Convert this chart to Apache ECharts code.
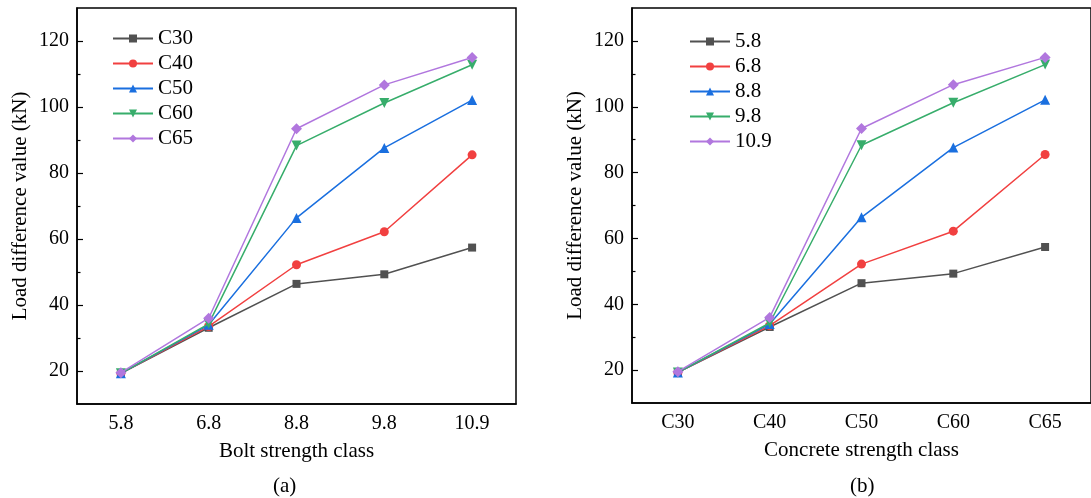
<!DOCTYPE html>
<html lang="en">
<head>
<meta charset="UTF-8">
<title>Load difference value</title>
<script src="https://cdn.jsdelivr.net/npm/echarts@6/dist/echarts.min.js"></script>
<style>
    html, body { margin: 0; padding: 0; background: #fff; }
    #main { width: 1091px; height: 498px; }
</style>
</head>
<body>
<div id="main"></div>
<script>
    // categories
    var boltClass = ['5.8', '6.8', '8.8', '9.8', '10.9'];
    var concreteClass = ['C30', 'C40', 'C50', 'C60', 'C65'];

    // load difference values (kN), one row per line of panel (a)
    var rowC30 = [19.3, 33.1, 46.4, 49.3, 57.4];
    var rowC40 = [19.3, 33.5, 52.2, 62.2, 85.5];
    var rowC50 = [19.3, 34.0, 66.4, 87.6, 102.1];
    var rowC60 = [19.3, 34.3, 88.3, 101.2, 112.8];
    var rowC65 = [19.5, 36.0, 93.4, 106.7, 115.0];

    // y ticks
    var yMajorTicks = [20, 40, 60, 80, 100, 120];
    var yMinorTicks = [30, 50, 70, 90, 110];

    var rows = [rowC30, rowC40, rowC50, rowC60, rowC65];
    var colors = ['#515151', '#F14040', '#1A6FDF', '#37AD6B', '#B177DE'];
    var symbols = ['rect', 'circle', 'triangle', 'triangle', 'diamond'];
    var symRot = [0, 0, 0, 180, 0];
    var symSize = [8, 9, 10, 10, 11];
    var font = "'Liberation Serif', 'Times New Roman', serif";

    function mainX(gi, cats, title) {
        return {
            type: 'category', gridIndex: gi, data: cats,
            name: title, nameLocation: 'middle', nameGap: 37,
            nameTextStyle: {fontFamily: font, fontSize: 21, color: '#000'},
            axisLine: {lineStyle: {color: '#000', width: 1.5}},
            axisTick: {inside: true, alignWithLabel: true, length: 7, lineStyle: {color: '#000', width: 1.2}},
            axisLabel: {fontFamily: font, fontSize: 20, color: '#000', margin: 10},
            splitLine: {show: false}
        };
    }
    function minorX(gi, cats) {
        return {
            type: 'category', gridIndex: gi, data: cats, position: 'bottom',
            axisLine: {show: false},
            axisTick: {inside: true, alignWithLabel: false, interval: 0, length: 3.5, lineStyle: {color: '#000', width: 1.2}},
            axisLabel: {show: false},
            splitLine: {show: false}
        };
    }
    function mainY(gi) {
        return {
            type: 'value', gridIndex: gi, min: 10, max: 130, position: 'left',
            name: 'Load difference value (kN)', nameLocation: 'middle', nameGap: 46,
            nameTextStyle: {fontFamily: font, fontSize: 21, color: '#000'},
            axisLine: {show: true, lineStyle: {color: '#000', width: 1.5}},
            axisTick: {show: true, inside: true, length: 6, customValues: yMajorTicks, lineStyle: {color: '#000', width: 1.2}},
            axisLabel: {fontFamily: font, fontSize: 20, color: '#000', margin: 8, customValues: yMajorTicks},
            splitLine: {show: false}
        };
    }
    function minorY(gi) {
        return {
            type: 'value', gridIndex: gi, min: 10, max: 130, position: 'left', offset: 0,
            axisLine: {show: false},
            axisTick: {show: true, inside: true, length: 3.5, customValues: yMinorTicks, lineStyle: {color: '#000', width: 1.2}},
            axisLabel: {show: false},
            splitLine: {show: false}
        };
    }

    var series = [];
    for (var p = 0; p < 2; p++) {
        var names = p == 0 ? concreteClass : boltClass;
        for (var i = 0; i < rows.length; i++) {
            series.push({
                name: names[i], type: 'line', data: rows[i],
                xAxisIndex: p * 2, yAxisIndex: p * 2,
                symbol: symbols[i], symbolRotate: symRot[i], symbolSize: symSize[i],
                showAllSymbol: true,
                itemStyle: {color: colors[i]},
                lineStyle: {color: colors[i], width: 1.5},
                z: 3 + i
            });
        }
    }

    var myChart = echarts.init(document.getElementById('main'));
    var option = {
        backgroundColor: '#fff',
        animation: false,
        grid: [
            {left: 77, top: 8, width: 439, height: 396, show: true, borderColor: '#000', borderWidth: 1.5, containLabel: false},
            {left: 632, top: 8, width: 462, height: 395, show: true, borderColor: '#000', borderWidth: 1.5, containLabel: false}
        ],
        legend: [
            {
                data: concreteClass, orient: 'vertical', left: 107, top: 23,
                itemWidth: 40, itemHeight: 10, itemGap: 4,
                textStyle: {fontFamily: font, fontSize: 21, color: '#000', lineHeight: 21}
            },
            {
                data: boltClass, orient: 'vertical', left: 684, top: 26,
                itemWidth: 40, itemHeight: 10, itemGap: 4,
                textStyle: {fontFamily: font, fontSize: 21, color: '#000', lineHeight: 21}
            }
        ],
        xAxis: [
            mainX(0, boltClass, 'Bolt strength class'), minorX(0, boltClass),
            mainX(1, concreteClass, 'Concrete strength class'), minorX(1, concreteClass)
        ],
        yAxis: [mainY(0), minorY(0), mainY(1), minorY(1)],
        graphic: [
            {type: 'text', left: 273, top: 476, style: {text: '(a)', font: '21px ' + font, fill: '#000'}},
            {type: 'text', left: 850, top: 476, style: {text: '(b)', font: '21px ' + font, fill: '#000'}}
        ],
        series: series
    };
    myChart.setOption(option);
</script>
</body>
</html>
